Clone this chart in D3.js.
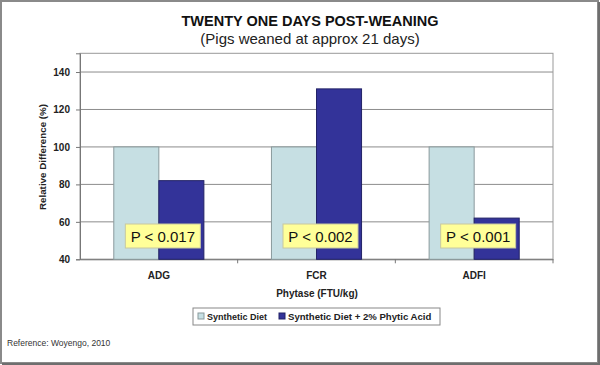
<!DOCTYPE html>
<html lang="en">
<head>
<meta charset="UTF-8">
<script src="https://d3js.org/d3.v7.min.js"></script>
<style>
  body { margin: 0; background: #fff; }
  svg { display: block; font-family: "Liberation Sans", Arial, sans-serif; }
</style>
<title>Twenty One Days Post-Weaning</title>
</head>
<body>
<script>
  // chart data
  var categories = ["ADG", "FCR", "ADFI"];
  var seriesNames = ["Synthetic Diet", "Synthetic Diet + 2% Phytic Acid"];
  var syntheticDiet = [100, 100, 100];
  var phyticAcid = [82, 131, 62];
  var pValues = ["P < 0.017", "P < 0.002", "P < 0.001"];
  var yTicks = [40, 60, 80, 100, 120, 140];

  var colors = ["#c6dfe3", "#333399"];
  var W = 600, H = 365;

  var svg = d3.select("body").append("svg")
    .attr("width", W)
    .attr("height", H);

  // outer frame
  svg.append("rect")
    .attr("x", 1).attr("y", 1)
    .attr("width", W - 3).attr("height", H - 3)
    .attr("fill", "#fff")
    .attr("stroke", "#8a8a8a")
    .attr("stroke-width", 2);
  svg.append("path")
    .attr("d", "M" + (W - 1) + ",2V" + (H - 1) + "H2")
    .attr("fill", "none")
    .attr("stroke", "#6e6e6e")
    .attr("stroke-width", 2);

  // titles
  svg.append("text")
    .attr("x", 310).attr("y", 26)
    .attr("text-anchor", "middle")
    .attr("font-size", 14.5).attr("font-weight", "bold")
    .attr("fill", "#111")
    .text("TWENTY ONE DAYS POST-WEANING");
  svg.append("text")
    .attr("x", 310).attr("y", 44)
    .attr("text-anchor", "middle")
    .attr("font-size", 15)
    .attr("fill", "#222")
    .text("(Pigs weaned at approx 21 days)");

  var plotL = 80, plotR = 553, plotT = 53.3, plotB = 259.3;

  var y = d3.scaleLinear().domain([40, 150]).range([plotB, plotT]);
  var x0 = d3.scaleBand().domain(categories).range([plotL, plotR]);
  var bw = x0.bandwidth();
  var x1 = d3.scaleBand().domain(seriesNames).range([bw * 1.5 / 7, bw * 5.5 / 7]);

  // gridlines
  svg.append("g").selectAll("line")
    .data(yTicks)
    .enter().append("line")
    .attr("x1", plotL).attr("x2", plotR)
    .attr("y1", function (d) { return y(d); })
    .attr("y2", function (d) { return y(d); })
    .attr("stroke", "#8c8c8c")
    .attr("stroke-width", 1);

  // plot border
  svg.append("rect")
    .attr("x", plotL).attr("y", plotT)
    .attr("width", plotR - plotL).attr("height", plotB - plotT)
    .attr("fill", "none")
    .attr("stroke", "#999")
    .attr("stroke-width", 1);

  // y axis
  var yAxis = d3.axisLeft(y).tickValues(yTicks).tickSize(4).tickPadding(6);
  var gy = svg.append("g").attr("transform", "translate(" + plotL + ",0)").call(yAxis);
  gy.select(".domain").attr("stroke", "#777");
  gy.selectAll(".tick line").attr("stroke", "#777");
  gy.selectAll("text")
    .attr("font-size", 10).attr("font-weight", "bold")
    .attr("font-family", "Liberation Sans, Arial, sans-serif")
    .attr("fill", "#222");

  // x axis
  var xAxis = d3.axisBottom(x0).tickSize(0).tickPadding(13);
  var gx = svg.append("g").attr("transform", "translate(0," + plotB + ")").call(xAxis);
  gx.select(".domain").attr("stroke", "#777");
  gx.selectAll("text")
    .attr("font-size", 10).attr("font-weight", "bold")
    .attr("font-family", "Liberation Sans, Arial, sans-serif")
    .attr("fill", "#222");
  // category separator ticks
  gx.selectAll(".sep")
    .data(categories)
    .enter().append("line")
    .attr("class", "sep")
    .attr("x1", function (d) { return x0(d) + bw; })
    .attr("x2", function (d) { return x0(d) + bw; })
    .attr("y1", 0).attr("y2", 4)
    .attr("stroke", "#777");

  // bars
  var rows = categories.map(function (c, i) {
    return { cat: c, values: [syntheticDiet[i], phyticAcid[i]], p: pValues[i] };
  });

  var groups = svg.selectAll(".grp")
    .data(rows)
    .enter().append("g")
    .attr("class", "grp")
    .attr("transform", function (d) { return "translate(" + x0(d.cat) + ",0)"; });

  groups.selectAll("rect")
    .data(function (d) {
      return d.values.map(function (v, j) { return { name: seriesNames[j], value: v, j: j }; });
    })
    .enter().append("rect")
    .attr("x", function (d) { return x1(d.name); })
    .attr("width", x1.bandwidth())
    .attr("y", function (d) { return y(d.value); })
    .attr("height", function (d) { return y(40) - y(d.value); })
    .attr("fill", function (d) { return colors[d.j]; })
    .attr("stroke", function (d) { return d.j === 0 ? "#8a9a9c" : "#222266"; })
    .attr("stroke-width", 1);

  // P value boxes
  groups.append("rect")
    .attr("x", bw / 2 + 4 - 37.5)
    .attr("y", 224)
    .attr("width", 75).attr("height", 24)
    .attr("fill", "#ffff99")
    .attr("stroke", "#c8c8a0")
    .attr("stroke-width", 1);
  groups.append("text")
    .attr("x", bw / 2 + 4)
    .attr("y", 241.5)
    .attr("text-anchor", "middle")
    .attr("font-size", 15)
    .attr("fill", "#111")
    .text(function (d) { return d.p; });

  // axis titles
  svg.append("text")
    .attr("transform", "translate(46,157) rotate(-90)")
    .attr("text-anchor", "middle")
    .attr("font-size", 9.8).attr("font-weight", "bold")
    .attr("fill", "#222")
    .text("Relative Difference (%)");
  svg.append("text")
    .attr("x", 317).attr("y", 297)
    .attr("text-anchor", "middle")
    .attr("font-size", 10).attr("font-weight", "bold")
    .attr("fill", "#222")
    .text("Phytase (FTU/kg)");

  // legend
  var lg = svg.append("g").attr("transform", "translate(193,308)");
  lg.append("rect")
    .attr("width", 247).attr("height", 17)
    .attr("fill", "#fff")
    .attr("stroke", "#888")
    .attr("stroke-width", 1);
  var legendX = [5, 86];
  var legendSize = [9, 9.6];
  seriesNames.forEach(function (s, i) {
    lg.append("rect")
      .attr("x", legendX[i]).attr("y", 5)
      .attr("width", 6).attr("height", 6)
      .attr("fill", colors[i])
      .attr("stroke", i === 0 ? "#8a9a9c" : "#222266");
    lg.append("text")
      .attr("x", legendX[i] + 9).attr("y", 12)
      .attr("font-size", legendSize[i]).attr("font-weight", "bold")
      .attr("fill", "#222")
      .text(s);
  });

  // reference note
  svg.append("text")
    .attr("x", 7).attr("y", 346)
    .attr("font-size", 8.5)
    .attr("fill", "#333")
    .text("Reference: Woyengo, 2010");
</script>
</body>
</html>
